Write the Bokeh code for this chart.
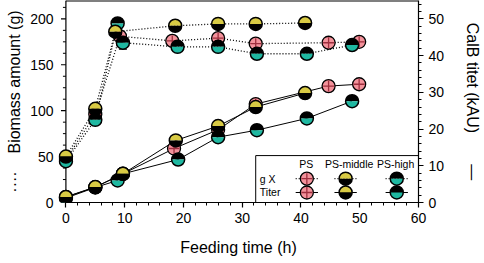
import numpy as np
from bokeh.plotting import figure
from bokeh.models import Range1d, LinearAxis, SingleIntervalTicker, ColumnDataSource, Label
from bokeh.embed import file_html
from bokeh.resources import INLINE

# ---------------- data ----------------
# Biomass amount (g), left axis, dotted lines
ps_bio_t = [0, 5, 9.2, 18.1, 25.9, 32.3, 44.7, 49.9]
ps_bio = [47, 96, 181, 176, 179, 173, 174, 175]
mid_bio_t = [0, 5, 8.4, 18.6, 25.9, 32.3, 40.7]
mid_bio = [50, 102, 186, 192.5, 194.5, 194.5, 195.5]
high_bio_t = [0, 5, 8.8, 9.7, 19.0, 25.9, 32.5, 41.0, 48.7]
high_bio = [45, 90, 195, 174, 169.5, 169.5, 162, 162, 171.5]
high_bio_err = [0, 0, 0, 7, 0, 0, 0, 0, 0]

# CalB titer (kAU), right axis, solid lines
ps_tit_t = [0, 5, 9.7, 18.4, 25.9, 32.3, 44.7, 49.9]
ps_tit = [1.5, 4.2, 7.8, 14.7, 19.8, 26.8, 31.7, 32.2]
mid_tit_t = [0, 5, 9.7, 18.7, 25.9, 32.3, 40.7]
mid_tit = [1.5, 4.2, 7.8, 16.9, 20.8, 26.0, 29.8]
high_tit_t = [0, 5, 8.8, 9.7, 19.1, 25.9, 32.5, 41.0, 48.7]
high_tit = [1.2, 4.1, 6.0, 7.8, 11.7, 17.8, 19.7, 22.9, 27.6]

series_names = ["PS", "PS-middle", "PS-high"]
row_names = ["g X", "Titer"]

# ---------------- style ----------------
PINK = "#F3929B"
CROSS = "#9E2F3E"
YELLOW = "#D8CA44"
TEAL = "#1FB8A1"
FONT = "Liberation Sans"
R = 6.5
NB = "\u00a0"

X0 = -1.26  # small margin left of the y axis so markers at t=0 are not cut
p = figure(width=484, height=263, x_range=Range1d(X0, 60), y_range=Range1d(0, 220),
           output_backend="svg", toolbar_location=None,
           min_border_left=58, min_border_right=61, min_border_top=0, min_border_bottom=61)
p.extra_y_ranges = {"titer": Range1d(0, 55)}
p.grid.visible = False
p.outline_line_color = None
p.background_fill_color = "white"

p.xaxis.ticker = SingleIntervalTicker(interval=10, num_minor_ticks=5)
p.xaxis.bounds = (0, 60)
p.yaxis.ticker = SingleIntervalTicker(interval=50, num_minor_ticks=4)
rax = LinearAxis(y_range_name="titer", ticker=SingleIntervalTicker(interval=10, num_minor_ticks=5))
p.add_layout(rax, "right")

for ax in [p.xaxis[0], p.yaxis[0], rax]:
    ax.axis_line_color = "black"
    ax.axis_line_width = 1.2
    ax.major_tick_line_color = "black"
    ax.minor_tick_line_color = "black"
    ax.major_tick_line_width = 1.2
    ax.minor_tick_line_width = 1
    ax.major_tick_out = 5
    ax.major_tick_in = 0
    ax.minor_tick_out = 3
    ax.minor_tick_in = 0
    ax.major_label_text_font = FONT
    ax.major_label_text_font_size = "14px"
    ax.major_label_text_color = "black"
    ax.major_label_standoff = 5
    ax.axis_label_text_font = FONT
    ax.axis_label_text_font_size = "16px"
    ax.axis_label_text_font_style = "normal"
    ax.axis_label_text_color = "black"

# left axis: labels from Bokeh, line and ticks drawn at x = 0 (inside the frame)
ly = p.yaxis[0]
ly.axis_line_color = None
ly.major_tick_line_color = None
ly.minor_tick_line_color = None
ly.major_tick_out = 0
ly.minor_tick_out = 0
ly.major_label_standoff = 5

p.xaxis.axis_label = "Feeding time (h)"
p.xaxis.axis_label_standoff = 13
p.yaxis.axis_label = "····" + NB * 4 + "Biomass amount (g)"
p.yaxis.axis_label_standoff = 4
rax.axis_label = "CalB titet (kAU)" + NB * 7 + "—"
rax.axis_label_standoff = 17

# manual left axis line and outward ticks
PX = 60 / (423 - 65.5)  # data units per pixel along x
maj = np.arange(0, 201, 50)
mnr = np.array([v for v in np.arange(0, 220.1, 12.5) if v % 50 != 0])
p.segment(x0=[0], y0=[0], x1=[0], y1=[220], line_color="black", line_width=1.2)
p.segment(x0=-5 * PX, y0=maj, x1=np.zeros(len(maj)), y1=maj, line_color="black", line_width=1.2)
p.segment(x0=-3 * PX, y0=mnr, x1=np.zeros(len(mnr)), y1=mnr, line_color="black", line_width=1)
# top frame line
p.segment(x0=[0], y0=[220], x1=[60], y1=[220], line_color="black", line_width=2)


def half_marker(x, y, top, bottom, yr="default"):
    src = ColumnDataSource(dict(x=x, y=y))
    p.wedge(x="x", y="y", radius=R, radius_units="screen", start_angle=0, end_angle=np.pi,
            fill_color=top, line_color=None, source=src, y_range_name=yr)
    p.wedge(x="x", y="y", radius=R, radius_units="screen", start_angle=np.pi, end_angle=2 * np.pi,
            fill_color=bottom, line_color=None, source=src, y_range_name=yr)
    p.scatter(x="x", y="y", marker="circle", size=2 * R, fill_color=None, line_color="black",
              line_width=1.5, source=src, y_range_name=yr)


def ps_marker(x, y, yr="default"):
    src = ColumnDataSource(dict(x=x, y=y))
    p.scatter(x="x", y="y", marker="circle", size=2 * R, fill_color=PINK, line_color="black",
              line_width=1.3, source=src, y_range_name=yr)
    p.scatter(x="x", y="y", marker="cross", size=2 * R - 2, line_color=CROSS,
              line_width=1.3, source=src, y_range_name=yr)


# lines
for t, v in [(ps_bio_t, ps_bio), (mid_bio_t, mid_bio), (high_bio_t, high_bio)]:
    p.line(t, v, line_color="black", line_width=1.3, line_dash="1 2")
for t, v in [(ps_tit_t, ps_tit), (mid_tit_t, mid_tit), (high_tit_t, high_tit)]:
    p.line(t, v, line_color="black", line_width=1, y_range_name="titer")

# error bar
idx = [i for i, e in enumerate(high_bio_err) if e > 0]
ex = [high_bio_t[i] for i in idx]
elo = [high_bio[i] - high_bio_err[i] for i in idx]
ehi = [high_bio[i] + high_bio_err[i] for i in idx]
p.segment(x0=ex, y0=elo, x1=ex, y1=ehi, line_color="black", line_width=1.2)
p.scatter(x=ex, y=elo, marker="dash", size=8, line_color="black", line_width=1.2)

# markers: PS, then PS-high, then PS-middle
ps_marker(ps_bio_t, ps_bio)
ps_marker(ps_tit_t, ps_tit, "titer")
half_marker(high_bio_t, high_bio, "black", TEAL)
half_marker(high_tit_t, high_tit, "black", TEAL, "titer")
half_marker(mid_bio_t, mid_bio, YELLOW, "black")
half_marker(mid_tit_t, mid_tit, YELLOW, "black", "titer")

# ---------------- legend box ----------------
LX0, LX1, LY0, LY1 = 32.3, 60, 0, 51.1
p.quad(left=[LX0], right=[LX1], bottom=[LY0], top=[LY1], fill_color="white",
       line_color="black", line_width=1)
col_x = [41.0, 47.6, 56.3]
head_x = [40.9, 48.2, 56.1]
row_y = [26.0, 10.9]
for name, hx in zip(series_names, head_x):
    p.add_layout(Label(x=hx, y=42.4, text=name, text_font=FONT, text_font_size="10.5px",
                       text_align="center", text_baseline="middle", text_color="black"))
for name, ry in zip(row_names, row_y):
    p.add_layout(Label(x=33.0, y=ry, text=name, text_font=FONT, text_font_size="10.5px",
                       text_align="left", text_baseline="middle", text_color="black"))
for cx in col_x:
    p.segment(x0=[cx - 1.9], y0=[row_y[0]], x1=[cx + 1.9], y1=[row_y[0]], line_color="black",
              line_width=1.3, line_dash="1 2")
    p.segment(x0=[cx - 1.9], y0=[row_y[1]], x1=[cx + 1.9], y1=[row_y[1]], line_color="black",
              line_width=1.2)
for ry in row_y:
    ps_marker([col_x[0]], [ry])
    half_marker([col_x[1]], [ry], YELLOW, "black")
    half_marker([col_x[2]], [ry], "black", TEAL)

open("out.html", "w").write(file_html(p, INLINE))
